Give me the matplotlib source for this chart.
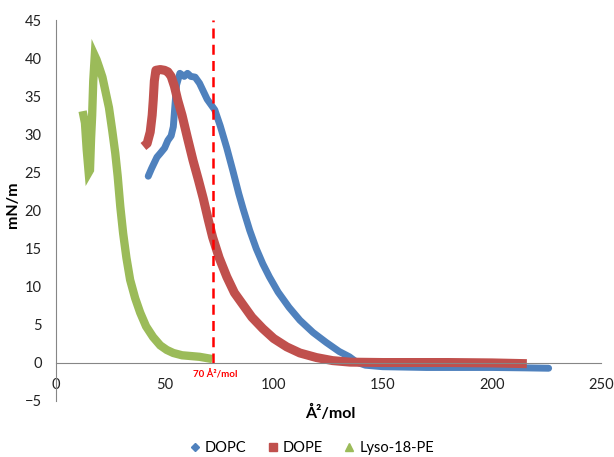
import matplotlib
matplotlib.use("Agg")
import matplotlib.pyplot as plt
from matplotlib.lines import Line2D

plt.rcParams['font.family'] = ['Lato', 'DejaVu Sans']

# isotherms: area (A^2/mol) vs surface pressure (mN/m)
dopc_x = [42.5, 44, 46.5, 48, 50, 51.5, 53, 54, 54.8, 55.5, 57, 59, 60.5, 62, 64, 66, 68, 69.5,
          71, 73, 75.5, 78.5, 81.3, 84, 86, 89, 92, 95, 98, 102, 107, 112, 118, 124, 130,
          134.7, 138, 142, 150, 170, 200, 215, 226]
dopc_y = [24.5, 25.5, 27, 27.5, 28.2, 29.2, 29.8, 31, 34, 36.5, 38, 37.6, 38, 37.6, 37.5, 36.7,
          35.5, 34.6, 34, 33.2, 31.1, 28.2, 25.2, 22.2, 20.2, 17.4, 15, 13, 11.3, 9.3, 7.3, 5.6,
          4.0, 2.7, 1.5, 0.8, 0.1, -0.3, -0.5, -0.6, -0.6, -0.65, -0.7]

dope_x = [40.3, 42, 43.4, 44.3, 44.8, 45.3, 46, 48, 50, 51.5, 53, 54.5, 56, 58, 60.5, 63, 65.5,
          67.7, 70, 72, 75, 78.5, 82, 86, 90, 95, 100, 106, 112, 119.6, 127, 135, 150, 180,
          200, 216]
dope_y = [28.4, 28.8, 30.3, 32.5, 34.5, 37, 38.4, 38.5, 38.4, 38.2, 37.6, 36.3, 34.5, 32.5, 29.5,
          26.6, 24, 21.6, 18.8, 16.5, 13.8, 11.3, 9.2, 7.6, 6, 4.5, 3.2, 2.1, 1.3, 0.7, 0.3,
          0.1, 0.05, 0.05, 0.0, -0.1]

lyso_x = [12.8, 13.5, 14.3, 15.2, 15.8, 16.3, 16.8, 17.3, 18, 18.8, 20, 21.5, 23, 24.5, 26, 27.4,
          28.5, 29.7, 31, 32.5, 34.2, 36.5, 38.8, 41.5, 44.7, 48, 51, 54, 58, 62, 66, 70]
lyso_y = [32.5, 31.5, 28, 25, 25.3, 29.5, 32.5, 37, 40.3, 39.8, 38.8, 37.5, 35.5, 33.5, 30.5,
          27.5, 24.5, 20.5, 17, 13.8, 10.9, 8.5, 6.6, 4.8, 3.4, 2.3, 1.7, 1.3, 1.0, 0.9, 0.8, 0.6]

names = ['DOPC', 'DOPE', 'Lyso-18-PE']
colors = ['#4F81BD', '#C0504D', '#9BBB59']
markers = ['D', 's', '^']
ref_area = 72
ref_label = '70 Å²/mol'

fig = plt.figure(figsize=(6.14, 4.57), dpi=100)
ax = fig.add_axes([55.5 / 614, 56 / 457, 545.5 / 614, 381 / 457])

ax.plot(dopc_x, dopc_y, color=colors[0], lw=5, solid_capstyle='round', solid_joinstyle='round')
ax.plot(dope_x, dope_y, color=colors[1], lw=6.5, solid_capstyle='butt', solid_joinstyle='round')
ax.plot(lyso_x, lyso_y, color=colors[2], lw=6, solid_joinstyle='miter')

ax.plot([ref_area, ref_area], [0, 45], color='#FF0000', lw=1.8, ls=(0, (4, 2.5)))
ax.text(ref_area + 1, -1.6, ref_label, color='#FF0000', fontsize=7, fontweight='bold',
        ha='center', va='center')

ax.set_xlim(0, 250)
ax.set_ylim(-5, 45)
ax.set_xticks([0, 50, 100, 150, 200, 250])
ax.set_yticks(range(-5, 50, 5))

for s in ['top', 'right']:
    ax.spines[s].set_visible(False)
ax.spines['bottom'].set_position(('data', 0))
ax.spines['bottom'].set_color('#868686')
ax.spines['left'].set_color('#868686')
ax.tick_params(axis='both', length=0, labelsize=10.5, colors='#222222')
ax.tick_params(axis='x', pad=11)
ax.tick_params(axis='y', pad=10)

fig.text(330 / 614, 1 - 413 / 457, 'Å²/mol', fontsize=11.5, fontweight='bold',
         ha='center', va='center')
fig.text(13 / 614, 1 - 205 / 457, 'mN/m', fontsize=11.5, fontweight='bold',
         ha='center', va='center', rotation=90)

handles = [Line2D([], [], color=c, marker=m, ls='none', markersize=4.5 if m == 'D' else 5.5)
           for c, m in zip(colors, markers)]
fig.legend(handles, names, loc='center', bbox_to_anchor=(310 / 614, 1 - 448 / 457), ncol=3,
           frameon=False, fontsize=10.5, handletextpad=0.1, columnspacing=1.2, handlelength=1.2)

fig.savefig('out.png', dpi=100)
